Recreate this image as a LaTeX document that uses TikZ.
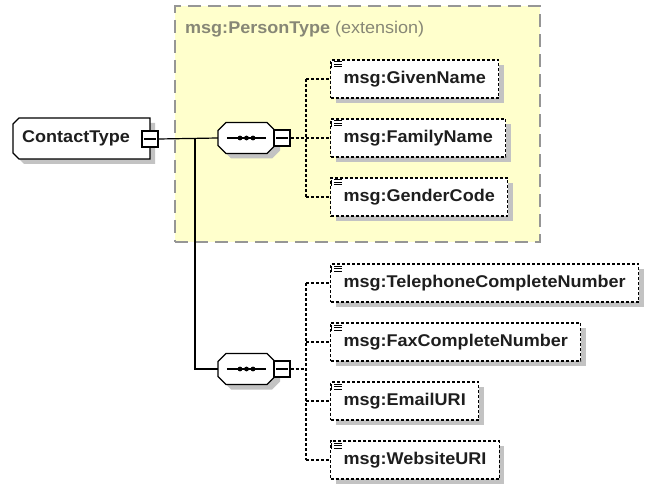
\documentclass[tikz,border=0pt]{standalone}
\usepackage{fontspec}
\setmainfont{Liberation Sans}
\newfontfamily\labfont[FakeStretch=1.06]{Liberation Sans}
\usetikzlibrary{shadows}
\definecolor{extfill}{RGB}{255,255,204}
\definecolor{extdraw}{RGB}{150,150,150}
\definecolor{titlegray}{RGB}{135,135,118}
\definecolor{shadowgray}{RGB}{195,195,195}
\definecolor{txt}{RGB}{30,30,30}
\def\octpath{(-20.5,-15.5) -- (20.5,-15.5) -- (28.5,-7.5) -- (28.5,7.5) -- (20.5,15.5) -- (-20.5,15.5) -- (-28.5,7.5) -- (-28.5,-7.5) -- cycle}
\def\ctpath{(-62.5,-20.5) -- (68.5,-20.5) -- (68.5,20.5) -- (-62.5,20.5) -- (-68.5,14.5) -- (-68.5,-14.5) -- cycle}
\begin{document}
\begin{tikzpicture}[x=1pt,y=-1pt,
  lab/.style={font=\labfont\fontsize{17}{20}\selectfont\bfseries, text=txt},
  shad/.style={drop shadow={shadow xshift=5pt, shadow yshift=-5pt, opacity=1, fill=shadowgray}},
  elem/.style={lab, shad, draw=black, fill=white, line width=1.2pt, dash pattern=on 3pt off 2pt, minimum height=38pt, inner xsep=13pt, inner ysep=0pt, anchor=west},
  shapeline/.style={draw=black, line width=1.2pt, fill=white},
  minusbox/.style={draw=black, line width=1.2pt, fill=white, minimum width=16pt, minimum height=16pt, inner sep=0pt},
  conn/.style={line width=1.2pt, black},
  dconn/.style={conn, dash pattern=on 3pt off 2pt},
  icon/.style={line width=0.8pt, black},
]
\useasboundingbox (0,0) rectangle (646,484);

% extension container
\node (ext) [draw=extdraw, fill=extfill, line width=1.3pt, dash pattern=on 13pt off 7pt,
  minimum width=365pt, minimum height=236pt, inner sep=0pt] at (357.5,124) {};
\node (title) [anchor=west, inner sep=0pt, font=\labfont\fontsize{17}{20}\selectfont, text=titlegray]
  at (185,29) {\textbf{msg:PersonType} (extension)};

% root
\begin{scope}[shift={(81.5,138.5)}]
  \fill[shadowgray, shift={(5,5)}] \ctpath;
  \path[shapeline] \ctpath;
\end{scope}
\node (ct) [lab, minimum height=41pt, text width=119pt, align=left, inner xsep=9pt, inner ysep=0pt,
  anchor=west] at (13,138.5) {ContactType};
\node (ctm) [minusbox] at (150,139) {};
\draw[conn] ([xshift=3pt]ctm.west) -- ([xshift=-3pt]ctm.east);

% sequences
\foreach \cy in {138,369}{
  \begin{scope}[shift={(246.5,\cy)}]
    \fill[shadowgray, shift={(5,5)}] \octpath;
    \path[shapeline] \octpath;
  \end{scope}
}
\node (s1) [minimum width=57pt, minimum height=31pt, inner sep=0pt] at (246.5,138) {};
\node (s2) [minimum width=57pt, minimum height=31pt, inner sep=0pt] at (246.5,369) {};
\foreach \s in {s1,s2}{
  \draw[conn] ([xshift=9pt]\s.west) -- ([xshift=-9pt]\s.east);
  \foreach \d in {-6.5,0,6.5}
    \fill ([xshift=\d pt]\s.center) circle[radius=2.4pt];
}
\node (s1m) [minusbox] at (282,138) {};
\node (s2m) [minusbox] at (282,369) {};
\foreach \m in {s1m,s2m}
  \draw[conn] ([xshift=3pt]\m.west) -- ([xshift=-3pt]\m.east);

% root connectors
\coordinate (j) at (195,138);
\draw[conn] (ctm.east) -- (s1.west);
\draw[conn] (j) |- (s2.west);

% elements
\node (gn) [elem] at (330,79)  {msg:GivenName};
\node (fn) [elem] at (330,138) {msg:FamilyName};
\node (gc) [elem] at (330,197) {msg:GenderCode};
\node (tn) [elem] at (330,283) {msg:TelephoneCompleteNumber};
\node (fx) [elem] at (330,342) {msg:FaxCompleteNumber};
\node (em) [elem] at (330,401) {msg:EmailURI};
\node (ws) [elem] at (330,460) {msg:WebsiteURI};

\foreach \e in {gn,fn,gc,tn,fx,em,ws}{
  \foreach \k in {0,2.5,5}
    \draw[icon] ([xshift=4pt,yshift=-2.5pt-\k pt]\e.north west) -- ++(8,0);
  \draw[icon] ([xshift=1.5pt,yshift=-3pt]\e.north west) -- ++(0,6);
}

% sequence connectors
\coordinate (v1) at (306,138);
\coordinate (v2) at (306,369);
\draw[dconn] (s1m.east) -- (v1);
\draw[dconn] (s2m.east) -- (v2);
\draw[dconn] (v1 |- gn.west) -- (v1 |- gc.west);
\draw[dconn] (v2 |- tn.west) -- (v2 |- ws.west);
\foreach \e in {gn,fn,gc}
  \draw[dconn] (v1 |- \e.west) -- (\e.west);
\foreach \e in {tn,fx,em,ws}
  \draw[dconn] (v2 |- \e.west) -- (\e.west);
\end{tikzpicture}
\end{document}
